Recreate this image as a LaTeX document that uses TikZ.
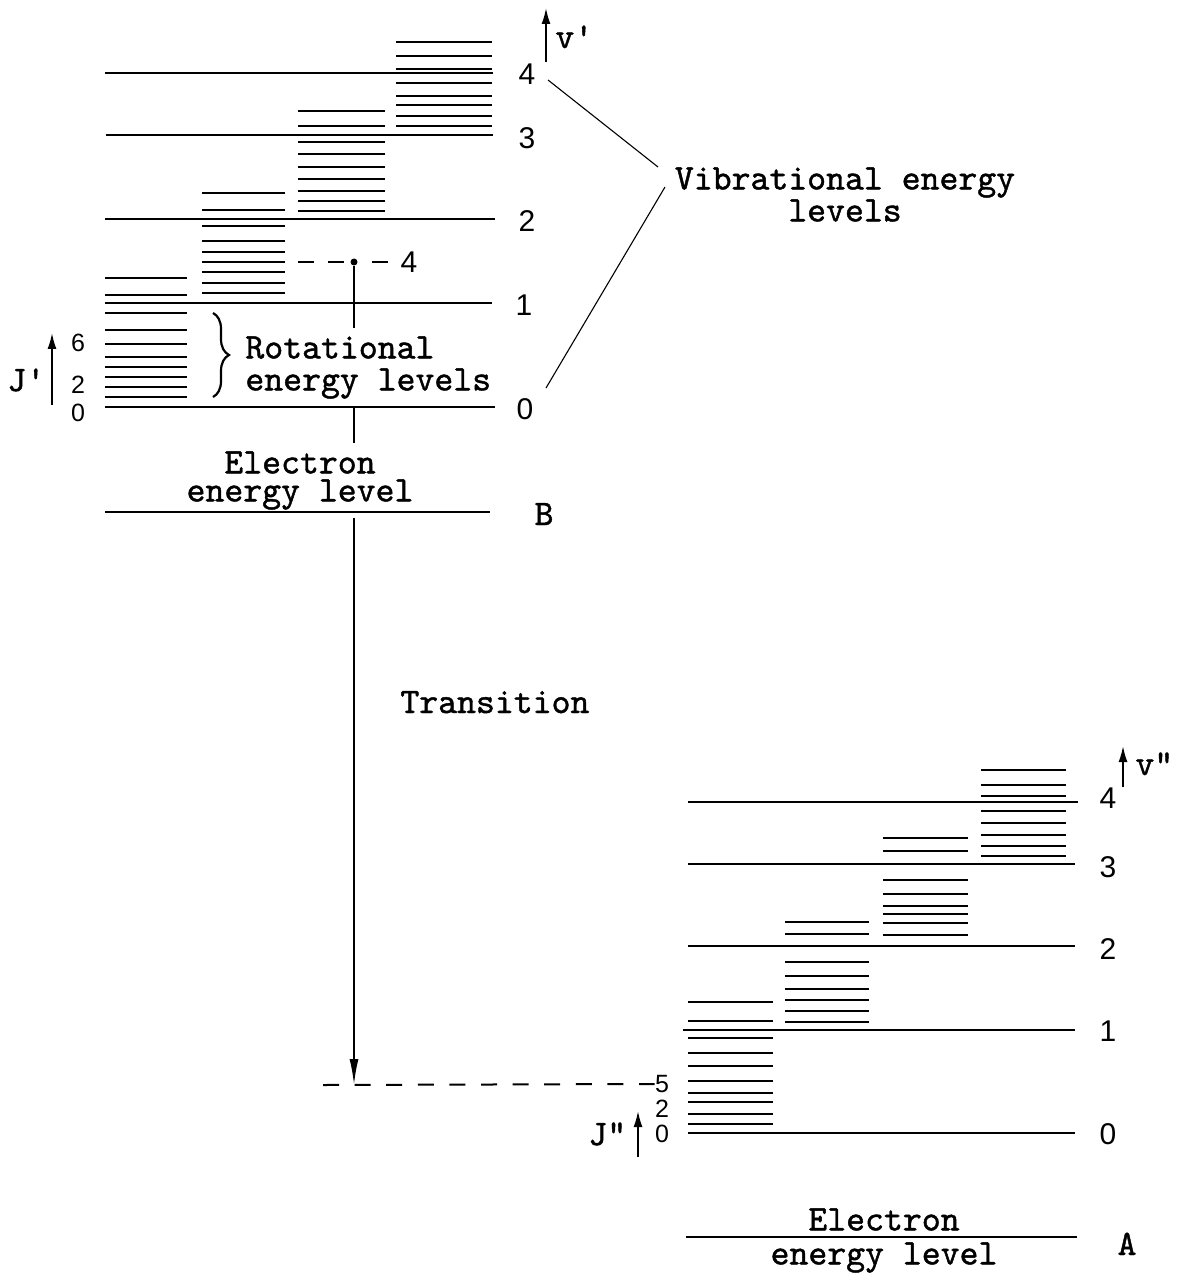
\documentclass[tikz,border=0pt]{standalone}
\usepackage{fontspec}
\usetikzlibrary{arrows.meta,decorations.pathreplacing}
\newfontfamily\twfont[FakeBold=1.2]{lmmono10-regular.otf}
\newfontfamily\lrfont{Liberation Sans}
\begin{document}
\begin{tikzpicture}[x=0.5pt,y=-0.5pt,
  lvl/.style={line width=1.45pt},
  rotl/.style={line width=0.75pt},
  rotb/.style={line width=0.9pt},
  txt/.style={font=\twfont\fontsize{18}{16}\selectfont, inner sep=0pt},
  num/.style={font=\lrfont\fontsize{15}{16}\selectfont, inner sep=0pt},
  snum/.style={font=\lrfont\fontsize{12.5}{12.5}\selectfont, inner sep=0pt, text height=8.6pt, text depth=0pt},
  upar/.style={line width=0.9pt, -{Latex[length=8pt,width=4.5pt]}},
  dsh/.style={line width=1pt, dash pattern=on 8pt off 7pt},
  cover/.style={fill=white, inner xsep=0pt, inner ysep=4pt},
  thinl/.style={line width=0.55pt}
]
\path[use as bounding box, fill=white] (0,0) rectangle (1184,1278);

% rotational levels, upper state
\foreach \y in {397,387,377,367,357,344,330,313,295,278} \draw[rotl] (105,\y) -- (187,\y);
\foreach \y in {293,283,272,262,252,241,226,210,193} \draw[rotl] (202,\y) -- (285,\y);
\foreach \y in {211,201,191,179,167,154,142,126,111} \draw[rotl] (298,\y) -- (385,\y);
\foreach \y in {126,116,105,96,83,69,56,42} \draw[rotl] (396,\y) -- (492,\y);
% rotational levels, lower state
\foreach \y in {1124,1114,1102,1093,1081,1066,1053,1038,1021,1002} \draw[rotb] (688,\y) -- (773,\y);
\foreach \y in {1022,1011,1000,989,976,962,934,922} \draw[rotb] (785,\y) -- (869,\y);
\foreach \y in {935,923,914,906,894,880,851,838} \draw[rotb] (883,\y) -- (968,\y);
\foreach \y in {856,846,835,823,811,796,785,770} \draw[rotb] (981,\y) -- (1066,\y);

% transition
\node[circle, fill, inner sep=0pt, minimum size=3.5pt] (dot) at (354,262) {};
\node[num] (j4) at (409,262) {4};
\coordinate (dstart) at (298,262);
\draw[dsh] (dstart) -- (dot);
\draw[dsh, dash phase=8pt] (dot) -- (j4.west);
\coordinate (tip) at (354,1085);
\draw[line width=1pt, -{Latex[length=13pt,width=4.5pt]}] (dot) -- (tip);
\node[snum] (j5) at (662,1084) {5};
\coordinate (lstart) at (323,1085);
\draw[dsh, dash pattern=on 8pt off 7.8pt] (lstart) -- (j5.west);

% texts
\node[txt, cover, align=left, anchor=north west] (rot) at (245,328) {Rotational\\energy levels};
\node[txt, cover, align=center, anchor=north, font=\twfont\fontsize{18}{14}\selectfont] (el) at (300,443) {Electron\\energy level};
\node[txt, anchor=base west] (trans) at (400,713) {Transition};
\node[txt, align=center, anchor=north] (vib) at (845,167) {Vibrational energy\\levels};
\node[txt, align=center, anchor=north, font=\twfont\fontsize{18}{17}\selectfont] (ea) at (884,1208) {Electron\\energy level};

% brace
\draw[line width=1.1pt, decorate, decoration={brace, amplitude=8pt}] (213,313) -- (213,397);

% vibrational / electronic levels
\draw[lvl] (105,73) -- (493,73);
\draw[lvl] (106,135) -- (493,135);
\draw[lvl] (105,219) -- (495,219);
\draw[lvl] (105,303) -- (492,303);
\draw[lvl] (105,407) -- (495,407);
\draw[lvl] (105,512) -- (490,512);
\draw[lvl] (688,802) -- (1078,802);
\draw[lvl] (688,864) -- (1075,864);
\draw[lvl] (688,946) -- (1075,946);
\draw[lvl] (683,1030) -- (1075,1030);
\draw[lvl] (688,1133) -- (1075,1133);
\draw[lvl] (686,1237) -- (1077,1237);

% labels upper
\node[num] (tv4) at (527,74) {4};
\node[num] (tv3) at (527,138) {3};
\node[num] (tv2) at (527,221) {2};
\node[num] (tv1) at (524,305) {1};
\node[num] (tv0) at (525,409) {0};
\node[txt, anchor=base] (labB) at (544,525) {B};
% labels lower
\node[num] (bv4) at (1108,798) {4};
\node[num] (bv3) at (1108,867) {3};
\node[num] (bv2) at (1108,949) {2};
\node[num] (bv1) at (1108,1031) {1};
\node[num] (bv0) at (1108,1134) {0};
\node[txt, anchor=base] (labA) at (1127,1255) {A};

% v' and v''
\coordinate (va0) at (546,62); \coordinate (va1) at (546,8);
\draw[upar] (va0) -- (va1);
\node[txt, anchor=base west] (vp) at (555,48) {v'};
\coordinate (vb0) at (1123,787); \coordinate (vb1) at (1123,746);
\draw[upar] (vb0) -- (vb1);
\node[txt, anchor=base west] (vpp) at (1135,775) {v"};

% J' and J''
\coordinate (ja0) at (52,405); \coordinate (ja1) at (52,333);
\draw[upar] (ja0) -- (ja1);
\node[txt, anchor=base west] (jp) at (7,391) {J'};
\node[snum] (j6) at (78,343) {6};
\node[snum] (j2) at (78,385) {2};
\node[snum] (j0) at (78,413) {0};
\coordinate (jb0) at (638,1157); \coordinate (jb1) at (638,1111);
\draw[upar] (jb0) -- (jb1);
\node[txt, anchor=base west] (jpp) at (588,1145) {J"};
\node[snum] (k2) at (662,1109) {2};
\node[snum] (k0) at (662,1134) {0};

% pointers to vibrational label
\coordinate (c4) at (548,80); \coordinate (c0) at (546,388);
\coordinate (cv1) at (658,167); \coordinate (cv2) at (665,187);
\draw[thinl] (c4) -- (cv1);
\draw[thinl] (c0) -- (cv2);
\end{tikzpicture}
\end{document}
